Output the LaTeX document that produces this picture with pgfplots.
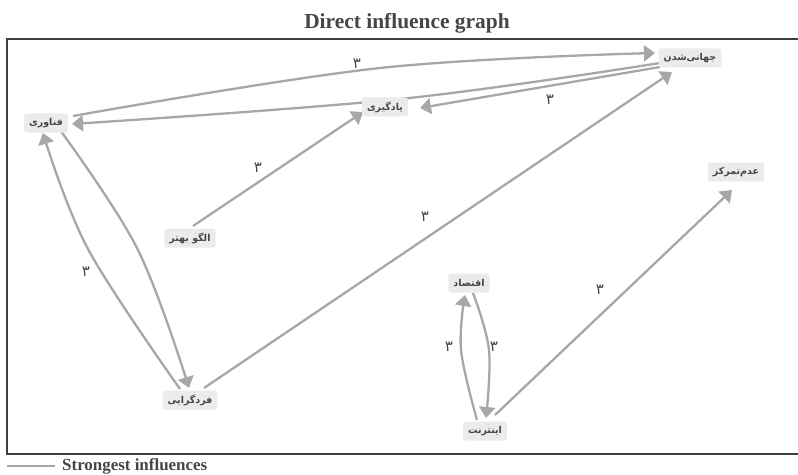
\documentclass[border=0pt]{standalone}
\usepackage{fontspec}
\setmainfont{Liberation Serif}
\newfontfamily\arabicfont[Script=Arabic]{DejaVu Sans}
\TeXXeTstate=1
\usepackage{pgfplots}
\pgfplotsset{compat=1.18}
\usetikzlibrary{arrows.meta}
\definecolor{edgec}{HTML}{A7A7A9}
\definecolor{nodebg}{HTML}{EBEBEB}
\definecolor{txt}{HTML}{454545}
\definecolor{framec}{HTML}{3F3F3F}
\tikzset{
  edge/.style={draw=edgec, line width=2.3bp, -{Triangle[length=11bp,width=16bp]}, smooth, tension=0.6},
  nd/.style={fill=nodebg, rounded corners=2.5bp, text=txt, inner xsep=5bp, inner ysep=2bp, minimum height=19bp,
     font=\fontsize{9.5}{11}\selectfont\arabicfont\bfseries},
  wt/.style={text=txt, font=\fontsize{15}{16}\selectfont\arabicfont, inner sep=0pt},
}
\begin{document}
\begin{tikzpicture}
\begin{axis}[hide axis, scale only axis, width=798bp, height=475bp,
  xmin=0, xmax=798, ymin=0, ymax=475, y dir=reverse, clip=false]
% frame
\draw[framec, line width=1.2bp] (axis cs:798,39) -- (axis cs:7,39) -- (axis cs:7,454) -- (axis cs:798,454);
% edges
\addplot[edge] coordinates {(73,116) (380,68) (655,53)};
\addplot[edge] coordinates {(660,63) (400,99) (72,124)};
\addplot[edge] coordinates {(660,67) (420,108)};
\addplot[edge] coordinates {(193,226) (363,112)};
\addplot[edge] coordinates {(55,123) (137,248) (189,388)};
\addplot[edge] coordinates {(180,389) (88,249) (43,133)};
\addplot[edge] coordinates {(204,388) (672,72)};
\addplot[edge] coordinates {(495,415) (732,190)};
\addplot[edge] coordinates {(477,420) (461,350) (465,295)};
\addplot[edge] coordinates {(473,293) (489,350) (486,418)};
% weights
\node[wt] at (axis cs:357,64) {۳};
\node[wt] at (axis cs:550,100) {۳};
\node[wt] at (axis cs:258,168) {۳};
\node[wt] at (axis cs:86,272) {۳};
\node[wt] at (axis cs:425,217) {۳};
\node[wt] at (axis cs:600,290) {۳};
\node[wt] at (axis cs:449,347) {۳};
\node[wt] at (axis cs:494,347) {۳};
% nodes
\node[nd] at (axis cs:690,58) {\beginR جهانی‌شدن\endR};
\node[nd] at (axis cs:385,107) {\beginR یادگیری\endR};
\node[nd] at (axis cs:46,123) {\beginR فناوری\endR};
\node[nd] at (axis cs:190,238) {\beginR الگو بهتر\endR};
\node[nd] at (axis cs:736,172) {\beginR عدم‌تمرکز\endR};
\node[nd] at (axis cs:469,283) {\beginR اقتصاد\endR};
\node[nd] at (axis cs:190,400) {\beginR فردگرایی\endR};
\node[nd] at (axis cs:485,431) {\beginR اینترنت\endR};
% title
\node[text=txt, anchor=base, inner sep=0pt, font=\bfseries\fontsize{21.5}{24}\selectfont] at (axis cs:407,29) {Direct influence graph};
% legend
\draw[edgec, line width=2.3bp] (axis cs:7,466) -- (axis cs:55,466);
\node[text=txt, anchor=base west, inner sep=0pt, font=\bfseries\fontsize{17}{19}\selectfont] at (axis cs:62,470) {Strongest influences};
\end{axis}
\pgfresetboundingbox
\path (current axis.south west) rectangle (current axis.north east);
\end{tikzpicture}
\end{document}
